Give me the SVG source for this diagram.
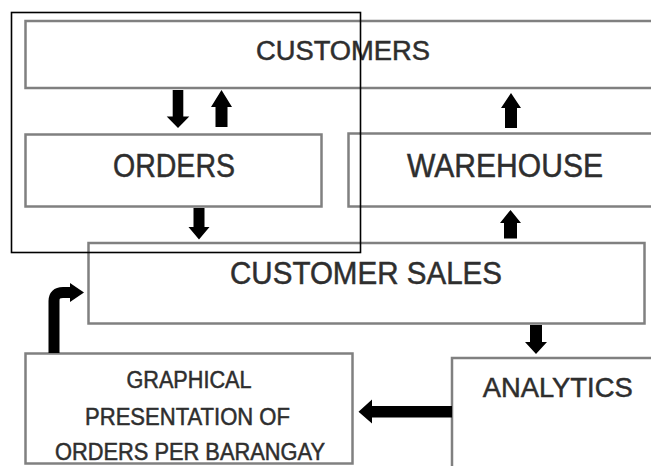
<svg xmlns="http://www.w3.org/2000/svg" width="651" height="466" viewBox="0 0 651 466">
<style>
  .box { fill: #ffffff; stroke: #808080; stroke-width: 2.5; }
  .lbl { font-family: "Liberation Sans", Arial, sans-serif; fill: #2e2e2e; stroke: #2e2e2e; stroke-width: 0.5; text-anchor: middle; }
  .arr { fill: #000000; stroke: none; }
  .bend { fill: none; stroke: #000000; stroke-width: 11; }
</style>
<rect x="0" y="0" width="651" height="466" fill="#ffffff"/>

<g id="node-customers">
  <rect class="box" x="25.5" y="21" width="640" height="67"/>
  <text class="lbl" x="343" y="59.5" font-size="27" textLength="174" lengthAdjust="spacingAndGlyphs">CUSTOMERS</text>
</g>

<g id="node-orders">
  <rect class="box" x="25.5" y="134.5" width="296" height="72"/>
  <text class="lbl" x="174" y="177" font-size="33.5" textLength="122" lengthAdjust="spacingAndGlyphs">ORDERS</text>
</g>

<g id="node-warehouse">
  <rect class="box" x="348.5" y="133.5" width="320" height="73"/>
  <text class="lbl" x="505" y="177.3" font-size="33.5" textLength="196" lengthAdjust="spacingAndGlyphs">WAREHOUSE</text>
</g>

<g id="node-customer-sales">
  <rect class="box" x="88.5" y="243" width="556" height="80.5"/>
  <text class="lbl" x="366" y="284.3" font-size="31.5" textLength="272" lengthAdjust="spacingAndGlyphs">CUSTOMER SALES</text>
</g>

<g id="node-graphical">
  <rect class="box" x="25.5" y="353.5" width="327" height="110"/>
  <text class="lbl" x="189" y="388.3" font-size="23.3" textLength="125" lengthAdjust="spacingAndGlyphs">GRAPHICAL</text>
  <text class="lbl" x="187.5" y="425" font-size="23.3" textLength="205" lengthAdjust="spacingAndGlyphs">PRESENTATION OF</text>
  <text class="lbl" x="190" y="460" font-size="23.3" textLength="270" lengthAdjust="spacingAndGlyphs">ORDERS PER BARANGAY</text>
</g>

<g id="node-analytics">
  <rect class="box" x="452" y="358" width="220" height="120"/>
  <text class="lbl" x="557.7" y="396.7" font-size="28" textLength="150" lengthAdjust="spacingAndGlyphs">ANALYTICS</text>
</g>

<g id="connectors">
  <polygon class="arr" points="172.7,90 183.3,90 183.3,116.5 189.3,116.5 178,128 166.7,116.5 172.7,116.5"/>
  <polygon class="arr" points="221.5,90 232,107 227.5,107 227.5,127 215.5,127 215.5,107 211,107"/>
  <polygon class="arr" points="511,93 521,108 517,108 517,128 505,128 505,108 501,108"/>
  <polygon class="arr" points="193.5,208 204.5,208 204.5,227 209.5,227 199,239.5 188.5,227 193.5,227"/>
  <polygon class="arr" points="510.5,210 521,223 517,223 517,238.5 504,238.5 504,223 500,223"/>
  <polygon class="arr" points="530,325 542,325 542,342 547,342 536,354 525,342 530,342"/>
  <polygon class="arr" points="452,406 452,417.5 372,417.5 372,423.5 358.5,411.7 372,399.5 372,406"/>
  <path class="bend" d="M54,353 V301 Q54,292.5 63,292.5 H71"/>
  <polygon class="arr" points="70,283 84,292.5 70,302"/>
</g>

<g id="overlay-frame">
  <rect x="11.5" y="12.5" width="349" height="240" fill="none" stroke="#000000" stroke-width="1.6"/>
</g>
</svg>
